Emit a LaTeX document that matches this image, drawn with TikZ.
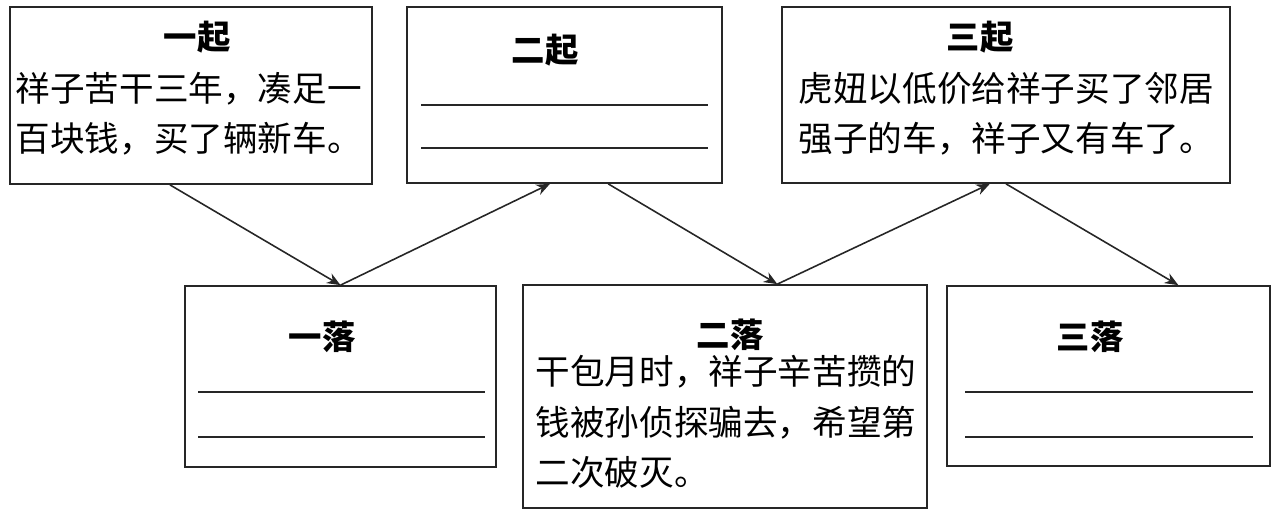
\documentclass[tikz,border=0pt]{standalone}
\usepackage{fontspec}
\newfontfamily\cjk{Noto Sans CJK SC}
\usetikzlibrary{calc,arrows.meta,positioning}

\begin{document}
\begin{tikzpicture}[x=0.02cm,y=-0.02cm,>={Stealth[length=2.7mm,width=2.2mm]},line width=0.8pt]
  \useasboundingbox (0,0) rectangle (1276,513);
  \tikzset{
    stageBox/.style={rectangle,draw=black!85,line width=1pt,inner sep=0pt},
    stageHead/.style={font=\cjk\bfseries\fontsize{19}{24}\selectfont,inner sep=0pt},
    stageText/.style={font=\cjk\fontsize{19.7}{28.5}\selectfont,align=left,inner sep=0pt,anchor=north west},
    % edge styles
    blank/.style={line width=0.7pt,draw=black!85},
    flow/.style={->,line width=0.9pt,draw=black!85}
  }

  %%% Upper row: the three rises

  \node[stageBox,minimum width=7.24cm,minimum height=3.54cm] (rise1) at (191,95.5) {};
  \node[stageHead] (rise1Head) at (197,37) {一起};
  \node[stageText] (rise1Text) at (15,72) {祥子苦干三年，凑足一\\百块钱，买了辆新车。};

  \node[stageBox,minimum width=6.3cm,minimum height=3.52cm] (rise2) at (564.5,95) {};
  \node[stageHead] (rise2Head) at (545,50) {二起};
  \draw[blank] (421,105) -- (708,105);
  \draw[blank] (421,148) -- (708,148);

  \node[stageBox,minimum width=8.96cm,minimum height=3.52cm] (rise3) at (1006,95) {};
  \node[stageHead] (rise3Head) at (980,37) {三起};
  \node[stageText] (rise3Text) at (798,72) {虎妞以低价给祥子买了邻居\\强子的车，祥子又有车了。};

  %%% Lower row: the three falls

  \node[stageBox,minimum width=6.22cm,minimum height=3.62cm] (fall1) at (340.5,376.5) {};
  \node[stageHead] (fall1Head) at (322,337) {一落};
  \draw[blank] (198,392) -- (485,392);
  \draw[blank] (198,437) -- (485,437);

  \node[stageBox,minimum width=8.08cm,minimum height=4.46cm] (fall2) at (725,396.5) {};
  \node[stageHead] (fall2Head) at (730,335) {二落};
  \node[stageText] (fall2Text) at (535,355) {干包月时，祥子辛苦攒的\\钱被孙侦探骗去，希望第\\二次破灭。};

  \node[stageBox,minimum width=6.46cm,minimum height=3.6cm] (fall3) at (1108.5,376) {};
  \node[stageHead] (fall3Head) at (1090,337) {三落};
  \draw[blank] (965,392) -- (1253,392);
  \draw[blank] (965,437) -- (1253,437);

  % zigzag arrows
  \draw[flow] ($(rise1.south west)!.442!(rise1.south east)$) -- (fall1.north);
  \draw[flow] (fall1.north) -- ($(rise2.south west)!.454!(rise2.south east)$);
  \draw[flow] ($(rise2.south west)!.638!(rise2.south east)$) -- ($(fall2.north west)!.629!(fall2.north east)$);
  \draw[flow] ($(fall2.north west)!.629!(fall2.north east)$) -- ($(rise3.south west)!.464!(rise3.south east)$);
  \draw[flow] (rise3.south) -- ($(fall3.north west)!.715!(fall3.north east)$);

\end{tikzpicture}
\end{document}
